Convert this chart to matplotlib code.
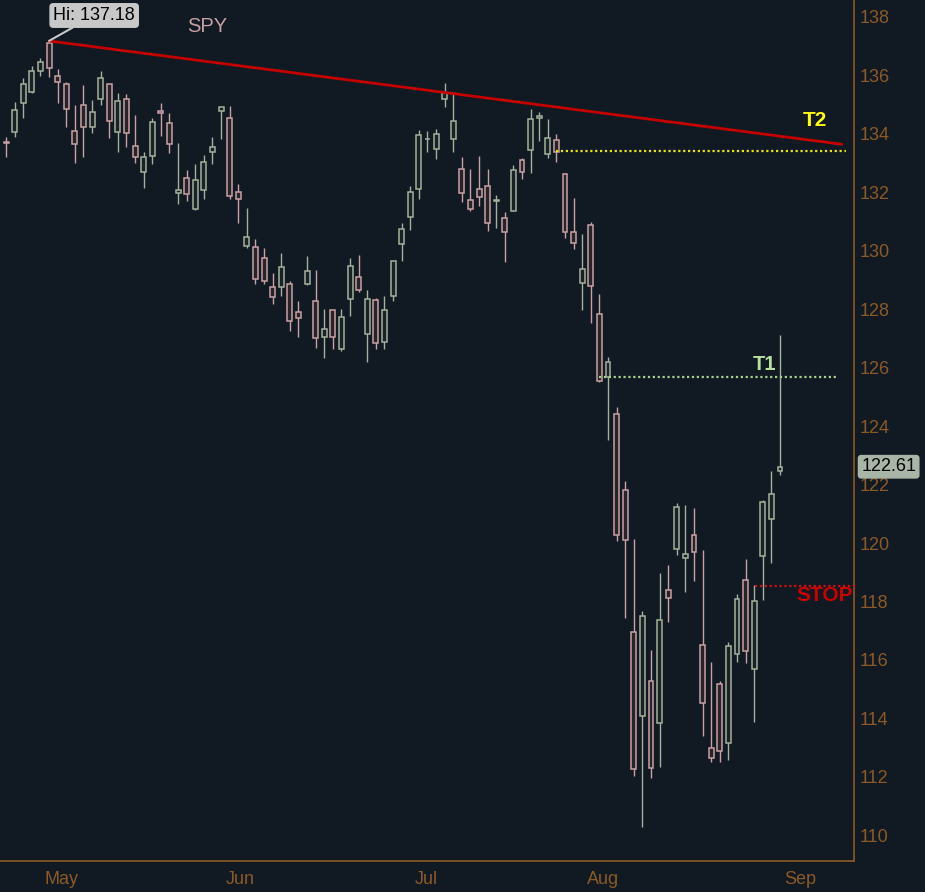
"""SPY daily candles, late Apr - Aug 2011, with trendline, targets and stop."""

import matplotlib

matplotlib.use("Agg")
import matplotlib.pyplot as plt
import pandas as pd

# --- data --------------------------------------------------------------
START_DATE = "2011-04-25"
END_DATE = "2011-08-31"
HOLIDAYS = ["2011-05-30", "2011-07-04"]

opens = [
    133.72, 134.07, 135.07, 135.44, 136.16, 137.12, 135.98, 135.71, 134.10, 134.99,
    134.22, 135.18, 135.70, 134.07, 135.19, 133.58, 132.70, 133.25, 134.79, 134.36,
    131.99, 132.48, 131.43, 132.07, 133.39, 134.79, 134.53, 132.00, 130.17, 130.12,
    129.74, 128.77, 128.77, 128.88, 127.91, 128.86, 128.28, 127.06, 127.96, 126.64,
    128.36, 129.09, 127.16, 128.30, 126.88, 128.46, 130.22, 131.16, 132.10, 133.81,
    133.49, 135.18, 133.83, 132.80, 131.73, 132.11, 132.21, 131.70, 131.11, 131.35,
    133.10, 133.44, 134.53, 133.32, 133.78, 132.61, 130.63, 128.90, 130.87, 127.82,
    125.67, 124.43, 121.81, 116.94, 114.08, 115.29, 113.84, 118.41, 119.80, 119.50,
    120.29, 116.52, 113.00, 115.19, 113.17, 116.22, 118.75, 115.69, 119.56, 120.82,
    122.48,
]
highs = [
    133.90, 135.10, 135.90, 136.32, 136.61, 137.18, 136.22, 135.79, 134.99, 135.67,
    135.16, 136.16, 135.72, 135.41, 135.35, 134.65, 133.37, 134.53, 135.05, 134.70,
    133.68, 132.76, 132.96, 133.28, 133.88, 134.93, 134.95, 132.28, 131.45, 130.39,
    130.08, 129.23, 129.94, 128.96, 128.28, 129.82, 129.34, 128.00, 127.98, 128.00,
    129.74, 129.85, 128.65, 128.40, 128.45, 129.66, 130.94, 132.21, 134.13, 134.10,
    134.16, 135.73, 135.36, 133.20, 132.80, 133.24, 132.80, 131.91, 131.31, 132.92,
    133.16, 134.84, 134.74, 134.50, 133.98, 132.65, 131.79, 130.57, 130.97, 128.52,
    126.36, 124.64, 122.11, 120.15, 117.66, 116.33, 118.97, 119.24, 121.36, 121.30,
    121.21, 119.75, 115.92, 115.27, 116.60, 118.27, 119.44, 118.55, 121.46, 122.46,
    127.11,
]
lows = [
    133.22, 133.90, 134.53, 135.41, 135.99, 135.96, 135.07, 134.24, 133.01, 133.22,
    134.02, 134.99, 133.85, 133.39, 133.56, 132.99, 132.14, 132.96, 133.94, 133.35,
    131.60, 131.71, 131.39, 131.77, 132.97, 133.82, 131.77, 130.96, 130.10, 128.86,
    128.86, 128.18, 128.45, 127.26, 127.06, 128.83, 126.68, 126.34, 126.63, 126.58,
    127.76, 128.60, 126.20, 126.64, 126.63, 128.29, 129.65, 130.71, 131.77, 133.39,
    133.13, 134.91, 133.39, 131.68, 131.37, 131.53, 130.67, 130.79, 129.62, 131.35,
    132.44, 132.67, 133.77, 133.17, 133.05, 130.44, 130.05, 127.97, 127.53, 125.50,
    123.53, 120.07, 117.42, 112.03, 110.28, 111.96, 112.33, 117.30, 119.59, 118.33,
    118.69, 113.40, 112.51, 112.50, 112.56, 115.93, 115.90, 113.88, 118.06, 119.30,
    122.32,
]
closes = [
    133.68, 134.82, 135.70, 136.15, 136.45, 136.24, 135.76, 134.84, 133.64, 134.22,
    134.74, 135.90, 134.45, 135.12, 134.04, 133.20, 133.20, 134.40, 134.70, 133.64,
    132.08, 131.94, 132.42, 133.03, 133.54, 134.91, 131.88, 131.76, 130.46, 129.03,
    128.97, 128.42, 129.43, 127.60, 127.71, 129.31, 127.02, 127.31, 127.06, 127.72,
    129.47, 128.65, 128.34, 126.83, 127.96, 129.64, 130.73, 132.00, 133.95, 133.83,
    133.98, 135.39, 134.44, 131.99, 131.42, 131.85, 130.94, 131.72, 130.63, 132.76,
    132.68, 134.50, 134.60, 133.85, 133.37, 130.63, 130.25, 129.36, 128.81, 125.53,
    126.18, 120.29, 120.12, 112.28, 117.52, 112.30, 117.35, 118.13, 121.22, 119.61,
    119.70, 114.54, 112.66, 112.88, 116.47, 118.10, 116.31, 118.00, 121.40, 121.69,
    122.61,
]

# trendline from the May high, drawn by bar index
trend_x = [5, 97.3]
trend_y = [137.18, 133.64]

# levels: (price, first bar, last bar)
t2_level = 133.40
t2_span = [64, 97.7]
t1_level = 125.67
t1_span = [69, 96.6]
stop_level = 118.52
stop_span = [87.1, 98.7]

BG = "#111923"
AXIS = "#8b5a26"
UP_EDGE = "#a4b19c"
DOWN_EDGE = "#c9a1a5"


def setup_plot_style():
    """Dark chart theme."""
    plt.rcParams.update(
        {
            "font.family": ["Liberation Sans", "DejaVu Sans"],
            "figure.facecolor": BG,
            "axes.facecolor": BG,
            "savefig.facecolor": BG,
        }
    )


def main():
    setup_plot_style()

    dates = pd.bdate_range(START_DATE, END_DATE)
    dates = dates[~dates.isin(pd.to_datetime(HOLIDAYS))]
    xs = list(range(len(dates)))

    fig = plt.figure(figsize=(9.25, 8.92), dpi=100)
    ax = fig.add_axes([0.0, 0.0344, 854.3 / 925, 1 - 0.0344])

    # Wicks first, bodies drawn over them
    up = [c >= o for o, c in zip(opens, closes)]
    edge_colors = [UP_EDGE if u else DOWN_EDGE for u in up]
    ax.vlines(xs, lows, highs, colors=edge_colors, linewidth=1, zorder=2)

    bottoms = [min(o, c) for o, c in zip(opens, closes)]
    heights = [max(abs(c - o), 0.02) for o, c in zip(opens, closes)]
    fills = ["#1b2227" if u else "#262329" for u in up]
    ax.bar(
        xs,
        heights,
        bottom=bottoms,
        width=0.58,
        color=fills,
        edgecolor=edge_colors,
        linewidth=1.1,
        zorder=3,
    )

    # Trendline and levels
    ax.plot(trend_x, trend_y, color="#c40000", linewidth=2, zorder=4, solid_capstyle="butt")
    dot = dict(linestyle=(0, (1, 1.2)), linewidth=1.6, dash_capstyle="butt", zorder=4)
    ax.plot(t2_span, [t2_level] * 2, color="#e6e600", **dot)
    ax.plot(t1_span, [t1_level] * 2, color="#a9cf8f", **dot)
    ax.plot(stop_span, [stop_level] * 2, color="#cc1111", clip_on=False, **dot)

    ax.text(92.7, 134.44, "T2", color="#ffff00", fontsize=15, fontweight="bold",
            ha="left", va="center", zorder=5)
    ax.text(86.8, 126.10, "T1", color="#b9e0a0", fontsize=14.5, fontweight="bold",
            ha="left", va="center", zorder=5)
    ax.text(91.9, 118.19, "STOP", color="#cc0000", fontsize=15, fontweight="bold",
            ha="left", va="center", zorder=5)
    ax.text(23.4, 137.66, "SPY", color="#c4a0a5", fontsize=14.5,
            ha="center", va="center", zorder=5)

    # High callout
    hi_idx = highs.index(max(highs))
    ax.annotate(
        f"Hi: {max(highs):.2f}",
        xy=(hi_idx, max(highs)),
        xytext=(10.25, 138.05),
        ha="center",
        va="center",
        fontsize=13,
        color="black",
        bbox=dict(boxstyle="round,pad=0.18", fc="#c8c8c8", ec="#c8c8c8"),
        arrowprops=dict(arrowstyle="-", color="#c8c8c8", lw=1.5, shrinkA=0, shrinkB=0),
        annotation_clip=False,
        zorder=6,
    )

    # Last price tag on the axis
    ax.annotate(
        f"{closes[-1]:.2f}",
        xy=(1.0, closes[-1]),
        xycoords=("axes fraction", "data"),
        xytext=(1.008, closes[-1]),
        textcoords=("axes fraction", "data"),
        ha="left",
        va="center",
        fontsize=13,
        color="black",
        bbox=dict(boxstyle="round,pad=0.15", fc="#a9b5a6", ec="#a9b5a6"),
        annotation_clip=False,
        zorder=7,
    )

    # Axes
    ax.set_xlim(-0.7, 98.64)
    ax.set_ylim(109.11, 138.58)
    for side in ["top", "left"]:
        ax.spines[side].set_visible(False)
    for side in ["right", "bottom"]:
        ax.spines[side].set_color(AXIS)
        ax.spines[side].set_linewidth(1.2)

    ax.yaxis.tick_right()
    ax.set_yticks(range(110, 139, 2))
    ax.tick_params(axis="y", length=0, pad=4, labelsize=13, labelcolor=AXIS)

    # Month labels start half a bar before the first session of each month
    month_idx = [i for i in range(1, len(dates)) if dates[i].month != dates[i - 1].month]
    month_names = [dates[i].strftime("%b") for i in month_idx]
    month_idx.append(len(dates))
    month_names.append((dates[-1] + pd.offsets.MonthBegin(1)).strftime("%b"))
    ax.set_xticks([i - 0.5 for i in month_idx])
    ax.set_xticklabels(month_names, ha="left")
    ax.tick_params(axis="x", length=0, pad=7, labelsize=13, labelcolor=AXIS)

    fig.savefig("out.png", dpi=100, facecolor=BG)
    plt.close(fig)


if __name__ == "__main__":
    main()
